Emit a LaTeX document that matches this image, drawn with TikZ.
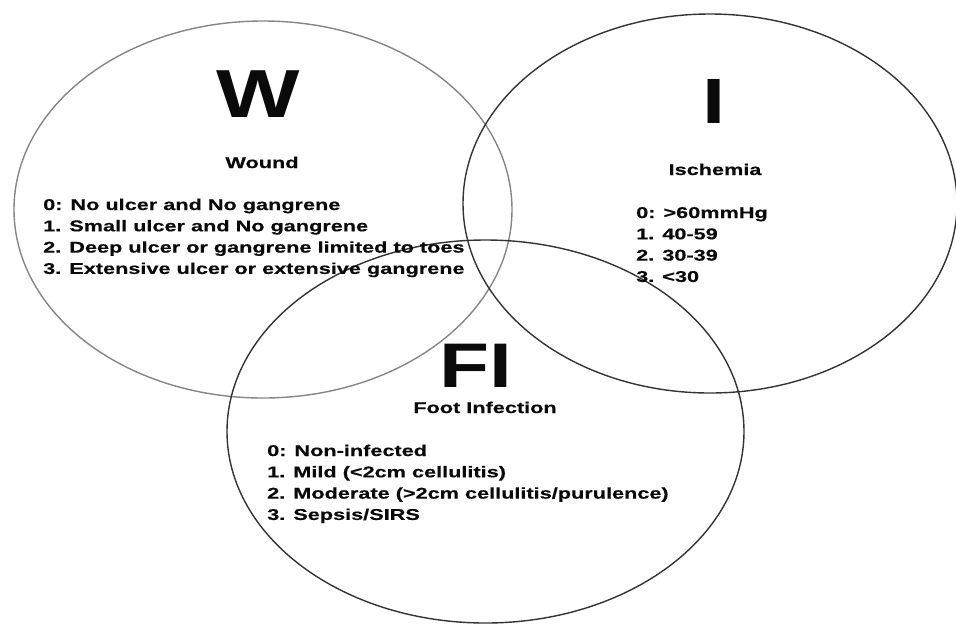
\documentclass[tikz,border=0pt]{standalone}
\usepackage{fontspec}
\usetikzlibrary{shapes.geometric}
\newfontfamily\lstext{Liberation Sans}[FakeStretch=1.39, FakeBold=0.4]
\newfontfamily\lsbig{Liberation Sans}[FakeStretch=1.3]
\definecolor{lineW}{HTML}{858585}
\definecolor{lineD}{HTML}{333333}
\definecolor{ink}{HTML}{0A0A0A}
\tikzset{
  venn/.style={ellipse, draw, line width=1.4pt, inner sep=0pt},
  bigletter/.style={anchor=base, inner sep=0pt, text=ink},
  heading/.style={anchor=base, inner sep=0pt, text=ink, font=\lstext\bfseries\fontsize{15.6}{21.3}\selectfont},
  listing/.style={anchor=base west, inner sep=0pt, text=ink, font=\lstext\bfseries\fontsize{15.6}{21.3}\selectfont}
}
\begin{document}
\begin{tikzpicture}[x=1pt,y=-1pt]
\useasboundingbox (0,0) rectangle (956,625);
% circles
\node[venn, draw=lineW, minimum width=498pt, minimum height=377pt] (Wc) at (263,209.5) {};
\node[venn, draw=lineD, minimum width=494pt, minimum height=379pt] (Ic) at (710,203.5) {};
\node[venn, draw=lineD, minimum width=517pt, minimum height=383pt] (Fc) at (485.5,431.5) {};
% Wound
\node[bigletter, font=\lsbig\bfseries\fontsize{68}{70}\selectfont] (Wl) at (258,117) {W};
\node[heading] (Wh) at (262,168) {Wound};
\node[listing] (Wt) at (43,210) {\vtop{\hbox{0: No ulcer and No gangrene}\hbox{1. Small ulcer and No gangrene}\hbox{2. Deep ulcer or gangrene limited to toes}\hbox{3. Extensive ulcer or extensive gangrene}}};
% Ischemia
\node[bigletter, font=\lsbig\bfseries\fontsize{64}{66}\selectfont] (Il) at (714,123) {I};
\node[heading] (Ih) at (715,175) {Ischemia};
\node[listing] (It) at (636,218) {\vtop{\hbox{0: >60mmHg}\hbox{1. 40-59}\hbox{2. 30-39}\hbox{3. <30}}};
% Foot infection
\node[bigletter, font=\lsbig\bfseries\fontsize{63}{65}\selectfont] (Fl) at (476,387) {FI};
\node[heading] (Fh) at (485,413) {Foot Infection};
\node[listing] (Ft) at (267,456) {\vtop{\hbox{0: Non-infected}\hbox{1. Mild (<2cm cellulitis)}\hbox{2. Moderate (>2cm cellulitis/purulence)}\hbox{3. Sepsis/SIRS}}};
\end{tikzpicture}
\end{document}
